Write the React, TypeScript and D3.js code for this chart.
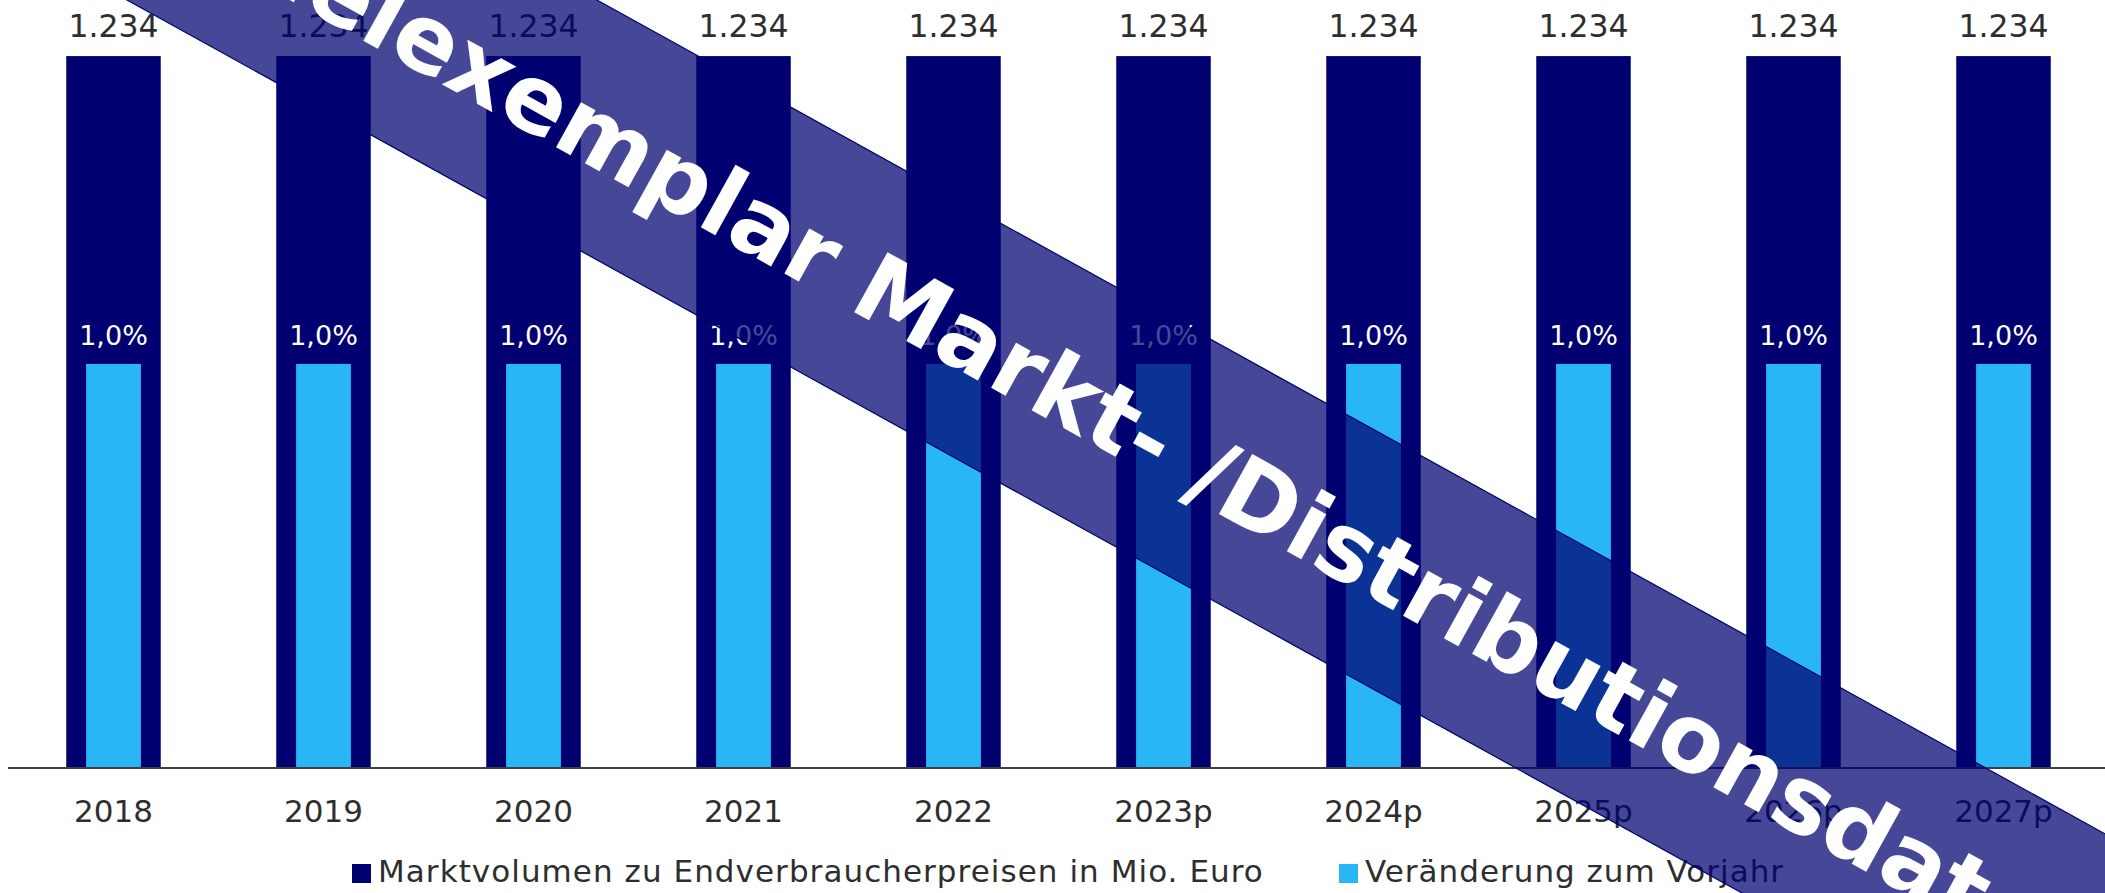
import React from "react";
import * as d3 from "d3";

const categories = ["2018", "2019", "2020", "2021", "2022", "2023p", "2024p", "2025p", "2026p", "2027p"];
const marketVolume = [1234, 1234, 1234, 1234, 1234, 1234, 1234, 1234, 1234, 1234];
const changePct = [1.0, 1.0, 1.0, 1.0, 1.0, 1.0, 1.0, 1.0, 1.0, 1.0];
const legendLabels = ["Marktvolumen zu Endverbraucherpreisen in Mio. Euro", "Veränderung zum Vorjahr"];
const watermarkText = "Beispielexemplar Markt- /Distributionsdaten";

const W = 2105;
const H = 893;
const DARK = "#000070";
const LIGHT = "#29b6f6";
const TEXT = "#2e2e2e";
const FONT = "'DejaVu Sans', Verdana, sans-serif";

const de = d3.formatLocale({ decimal: ",", thousands: ".", grouping: [3], currency: ["", " €"] });
const fmtVol = de.format(",.0f");
const fmtPct = (v: number) => de.format(",.1f")(v) + "%";

export default function App() {
  const x = d3.scaleBand<string>().domain(categories).range([8.5, 2108.5]).paddingInner(0.55).paddingOuter(0.275);
  const baseY = 768;
  const topY = 18;
  const yVol = d3.scaleLinear().domain([0, 1300]).range([baseY, topY]);
  const yPct = d3.scaleLinear().domain([0, 1.856]).range([baseY, topY]);
  const bw = x.bandwidth();
  const innerW = bw * 0.58;

  // watermark band geometry
  const angle = 28.94;
  const cx = 1060;
  const cy = 386;
  const half = 113.7;

  return (
    <svg
      width={W}
      height={H}
      style={{ position: "absolute", left: 0, top: 0, display: "block", background: "#fff" }}
      fontFamily={FONT}
    >
      <rect x={0} y={0} width={W} height={H} fill="#fff" />
      {categories.map((c, i) => {
        const x0 = x(c)!;
        const cxBar = x0 + bw / 2;
        return (
          <g key={c}>
            <rect x={x0} y={yVol(marketVolume[i])} width={bw} height={baseY - yVol(marketVolume[i])} fill={DARK} />
            <rect
              x={cxBar - innerW / 2}
              y={yPct(changePct[i])}
              width={innerW}
              height={baseY - yPct(changePct[i])}
              fill={LIGHT}
            />
            <text x={cxBar} y={yVol(marketVolume[i]) - 19} textAnchor="middle" fontSize={31.5} fill={TEXT}>
              {fmtVol(marketVolume[i])}
            </text>
            <text x={cxBar} y={yPct(changePct[i]) - 19} textAnchor="middle" fontSize={27} fill="#ffffff">
              {fmtPct(changePct[i])}
            </text>
            <text x={cxBar} y={822} textAnchor="middle" fontSize={31} fill={TEXT}>
              {c}
            </text>
          </g>
        );
      })}
      <line x1={8} x2={W} y1={baseY} y2={baseY} stroke="#404040" strokeWidth={2} />

      {/* legend */}
      <rect x={352} y={864} width={19} height={19} fill={DARK} />
      <text x={378} y={882} fontSize={31} letterSpacing={1.05} fill={TEXT}>{legendLabels[0]}</text>
      <rect x={1339} y={864} width={19} height={19} fill={LIGHT} />
      <text x={1365} y={882} fontSize={31} letterSpacing={1} fill={TEXT}>{legendLabels[1]}</text>

      {/* watermark */}
      <g transform={`translate(${cx},${cy}) rotate(${angle})`}>
        <rect x={-2000} y={-half} width={4000} height={half * 2} fill={DARK} fillOpacity={0.72} stroke={DARK} strokeWidth={1.2} />
        <text x={8} y={35} textAnchor="middle" fontSize={94} fontWeight="bold" fill="#ffffff">
          {watermarkText}
        </text>
      </g>
    </svg>
  );
}
